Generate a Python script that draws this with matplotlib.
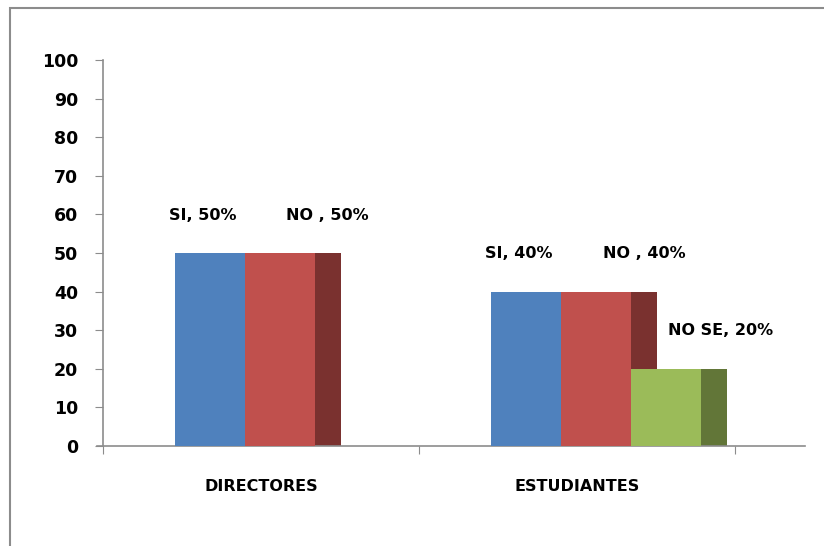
import numpy as np
import matplotlib
matplotlib.use("Agg")
import matplotlib.pyplot as plt
from matplotlib.patches import Rectangle

# data
categories = ["DIRECTORES", "ESTUDIANTES"]
series_names = ["SI", "NO ", "NO SE"]
si_values = [50, 40]
no_values = [50, 40]
nose_values = [0, 20]

front_colors = ["#4F81BD", "#C0504D", "#9BBB59"]
side_colors = ["#3A5F8C", "#7A312F", "#627638"]
label_dx = [-0.024, 0.15, 0.17]

plt.rcParams["font.family"] = ["DejaVu Sans"]

fig = plt.figure(figsize=(8.24, 5.46), dpi=100)
ax = fig.add_axes([97 / 824, 100 / 546, 708 / 824, 386 / 546])

values = [si_values, no_values, nose_values]
bar_w = 0.2215
depth = 0.082
start = 0.228

for i, vals in enumerate(values):
    for j, v in enumerate(vals):
        if v <= 0:
            continue
        x = j + start + bar_w / 2 + i * bar_w
        # side face (hidden behind the next front face where they overlap)
        ax.bar(x + bar_w / 2 + depth / 2, v, width=depth,
               color=side_colors[i], zorder=2, linewidth=0)
        ax.bar(x, v, width=bar_w, color=front_colors[i], zorder=3 + i,
               linewidth=0)
        ax.text(x + label_dx[i], v + 9.8, f"{series_names[i]}, {v}%",
                ha="center", va="center", fontsize=11.5, fontweight="bold",
                zorder=10)

ax.set_xlim(-0.02, 2.22)
ax.set_ylim(0, 100)

ax.spines["top"].set_visible(False)
ax.spines["right"].set_visible(False)
ax.spines["left"].set_position(("data", 0))
for s in ["left", "bottom"]:
    ax.spines[s].set_color("#8C8C8C")
    ax.spines[s].set_linewidth(1.2)

ax.set_yticks(np.arange(0, 101, 10))
ax.tick_params(axis="y", direction="out", length=6, color="#8C8C8C",
               labelsize=12.5, pad=12)
for lbl in ax.get_yticklabels():
    lbl.set_fontweight("bold")

ax.set_xticks([0, 1, 2])
ax.set_xticklabels([])
ax.tick_params(axis="x", which="major", direction="out", length=6,
               color="#8C8C8C")
ax.set_xticks([0.5, 1.5], minor=True)
ax.set_xticklabels(categories, minor=True, fontsize=11.5, fontweight="bold")
ax.tick_params(axis="x", which="minor", length=0, pad=24)

# chart frame (cut off at right and bottom like the reference)
fig.add_artist(Rectangle((10 / 824, -0.2), 1.5, 1.2 + (546 - 8) / 546 - 1,
                         transform=fig.transFigure, fill=False,
                         edgecolor="#8C8C8C", linewidth=1.5))

fig.savefig("out.png", dpi=100)
